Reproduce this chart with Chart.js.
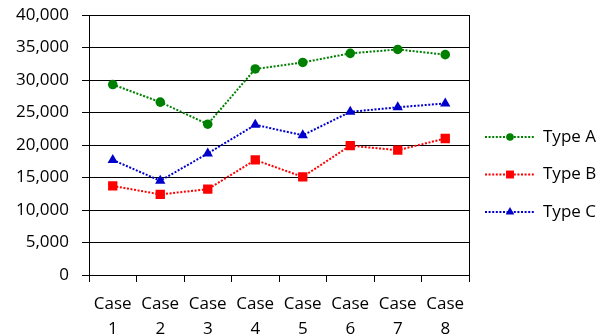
<!DOCTYPE html>
<html>
<head>
<meta charset="utf-8">
<script src="https://cdn.jsdelivr.net/npm/chart.js@4"></script>
<style>
  html, body { margin: 0; background: #fff; }
  #wrap { width: 607px; height: 336px; }
</style>
</head>
<body>
<div id="wrap"><canvas id="chart"></canvas></div>
<script>
const categories = [['Case', '1'], ['Case', '2'], ['Case', '3'], ['Case', '4'],
                    ['Case', '5'], ['Case', '6'], ['Case', '7'], ['Case', '8']];
const seriesNames = ['Type A', 'Type B', 'Type C'];
const typeA = [29300, 26600, 23200, 31700, 32700, 34100, 34700, 33900];
const typeB = [13700, 12400, 13200, 17700, 15100, 19900, 19200, 21000];
const typeC = [17700, 14500, 18700, 23100, 21500, 25100, 25800, 26400];
const yMin = 0, yMax = 40000, yStep = 5000;

const colors = ['#008000', '#ff0000', '#0000cc'];
const markers = [
    { pointStyle: 'circle', radius: 4.8 },
    { pointStyle: 'rect', radius: 6.6 },
    { pointStyle: 'triangle', radius: 6 }
];
const fontFamily = '"Open Sans", sans-serif';

function makeDataset(i, values) {
    return {
        label: seriesNames[i],
        data: values,
        borderColor: colors[i],
        backgroundColor: colors[i],
        borderWidth: 2,
        borderDash: [2, 1.6],
        pointStyle: markers[i].pointStyle,
        pointRadius: markers[i].radius,
        pointBorderWidth: 0,
        tension: 0
    };
}

// legend drawn next to the plot: dotted line with marker, then the name
const sideLegend = {
    id: 'sideLegend',
    afterDraw(chart) {
        const ctx = chart.ctx;
        const area = chart.chartArea;
        ctx.save();
        seriesNames.forEach((name, i) => {
            const y = area.top + 122 + i * 37.5;
            const x0 = area.right + 16;
            ctx.strokeStyle = colors[i];
            ctx.lineWidth = 2;
            ctx.setLineDash([2, 1.6]);
            ctx.beginPath();
            ctx.moveTo(x0, y);
            ctx.lineTo(x0 + 50, y);
            ctx.stroke();
            ctx.setLineDash([]);
            ctx.fillStyle = colors[i];
            Chart.helpers.drawPoint(ctx, {
                pointStyle: markers[i].pointStyle,
                radius: markers[i].radius - 1,
                rotation: 0,
                borderWidth: 0
            }, x0 + 25, y);
            ctx.fillStyle = '#000';
            ctx.font = '17px ' + fontFamily;
            ctx.textBaseline = 'middle';
            ctx.textAlign = 'left';
            ctx.fillText(name, x0 + 58, y);
        });
        ctx.restore();
    }
};

// right-hand border of the plot area
const plotBorder = {
    id: 'plotBorder',
    afterDatasetsDraw(chart) {
        const ctx = chart.ctx;
        const area = chart.chartArea;
        ctx.save();
        ctx.strokeStyle = '#000';
        ctx.lineWidth = 1;
        ctx.beginPath();
        ctx.moveTo(Math.round(area.right) + 0.5, area.top);
        ctx.lineTo(Math.round(area.right) + 0.5, area.bottom);
        ctx.stroke();
        ctx.restore();
    }
};

new Chart(document.getElementById('chart'), {
    type: 'line',
    data: {
        labels: categories,
        datasets: [makeDataset(0, typeA), makeDataset(1, typeB), makeDataset(2, typeC)]
    },
    options: {
        responsive: true,
        maintainAspectRatio: false,
        animation: false,
        layout: { padding: { top: 15, right: 138, left: 0, bottom: 0 } },
        plugins: {
            legend: { display: false },
            tooltip: { enabled: false }
        },
        scales: {
            x: {
                offset: true,
                grid: {
                    offset: true,
                    drawOnChartArea: false,
                    color: '#000',
                    tickLength: 7
                },
                border: { color: '#000' },
                ticks: {
                    color: '#000',
                    font: { family: fontFamily, size: 17, lineHeight: 1.5 },
                    maxRotation: 0,
                    autoSkip: false,
                    padding: 9
                },
                afterFit(scale) { scale.height = 61; }
            },
            y: {
                min: yMin,
                max: yMax,
                grid: { color: '#000', tickLength: 7 },
                border: { color: '#000' },
                ticks: {
                    stepSize: yStep,
                    color: '#000',
                    padding: 13,
                    font: { family: fontFamily, size: 17 },
                    callback: v => v.toLocaleString('en-US')
                },
                afterFit(scale) {
                    scale.width = 89;
                    scale.paddingTop = 0;
                    scale.paddingBottom = 0;
                }
            }
        }
    },
    plugins: [plotBorder, sideLegend]
});
</script>
</body>
</html>
